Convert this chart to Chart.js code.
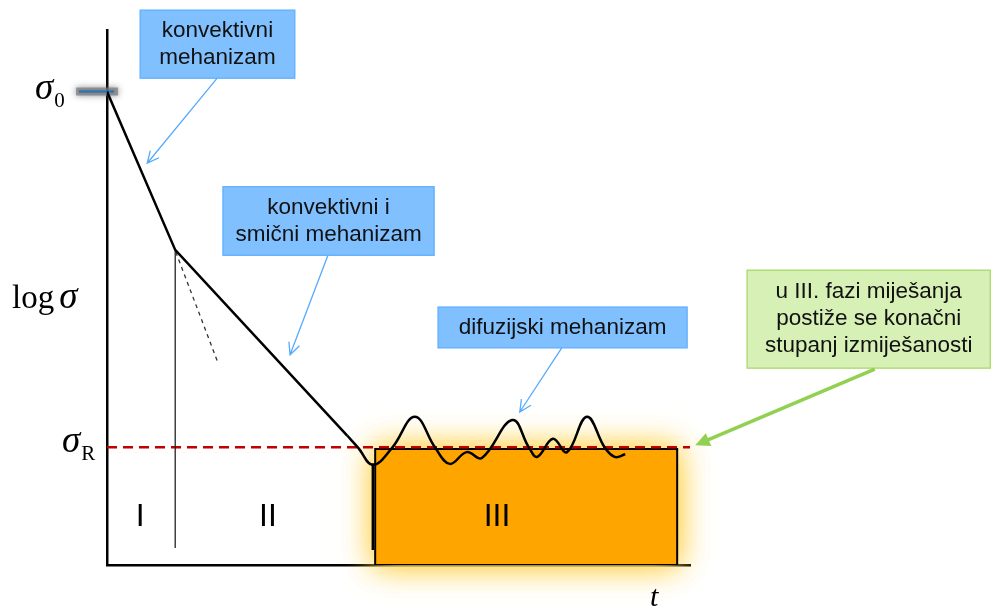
<!DOCTYPE html>
<html>
<head>
<meta charset="utf-8">
<script src="https://cdn.jsdelivr.net/npm/chart.js@4.4.0/dist/chart.umd.min.js"></script>
<style>
body { margin: 0; background: #fff; }
</style>
</head>
<body>
<canvas id="grafico" width="991" height="608"></canvas>
<script>
// vrijednosti u jedinicama dijagrama (t i log sigma)
const tMax = 10
const logMax = 10
const sigma0 = 8.85
const sigmaR = 2.2

// konvektivni pa konvektivni i smicni mehanizam
const padT = [0, 1.17, 4.12]
const padLog = [sigma0, 5.89, 2.42]

// difuzijski mehanizam - titra oko sigmaR
const difT = [4.12, 4.31, 4.56, 4.89, 5.28, 5.63, 5.88, 6.17, 6.43, 6.95, 7.24, 7.38, 7.65, 7.89, 8.23, 8.54, 8.71, 8.89]
const difLog = [2.42, 2.19, 1.87, 2.19, 2.77, 2.19, 1.89, 2.11, 2.00, 2.71, 2.19, 2.02, 2.36, 2.11, 2.77, 2.19, 2.02, 2.07]

// produzetak prvog pravca (crtkano)
const produzetakT = [1.18, 1.90]
const produzetakLog = [5.85, 3.79]

// granice faza
const granica1T = 1.17
const granica1Log = [0.32, 5.89]
const granica2T = 4.56
const granica2Log = [0.28, 1.90]

// III. faza
const kutijaT = [4.60, 9.78]
const kutijaLog = [0, 2.17]

// oznake faza
const faze = ['I', 'II', 'III']
const fazeT = [0.57, 2.76, 6.69]
const fazeLog = 0.93

// crtica za sigma0 na osi
const crticaT = [-0.53, 0.19]
const crticaPlavaT = [-0.48, 0.12]

// oblacici s tekstom
const oblacici = [
    { tekst: ['konvektivni', 'mehanizam'], okvir: [0.57, 3.22, 10.37, 9.10], strelica: [1.89, 9.10, 0.69, 7.51], zelen: false },
    { tekst: ['konvektivni i', 'smični mehanizam'], okvir: [1.99, 5.61, 7.07, 5.79], strelica: [3.79, 5.79, 3.14, 3.93], zelen: false },
    { tekst: ['difuzijski mehanizam'], okvir: [5.68, 9.95, 4.82, 4.06], strelica: [7.80, 4.06, 7.08, 2.86], zelen: false },
    { tekst: ['u III. fazi miješanja', 'postiže se konačni', 'stupanj izmiješanosti'], okvir: [10.98, 15.15, 5.51, 3.68], strelica: [13.17, 3.66, 10.09, 2.24], zelen: true }
]

function tocke(xs, ys) {
    return xs.map((v, i) => ({ x: v, y: ys[i] }))
}

function strelica(ctx, x1, y1, x2, y2, zelen) {
    let kut = Math.atan2(y2 - y1, x2 - x1)
    ctx.save()
    if (zelen) {
        ctx.strokeStyle = '#92d050'
        ctx.fillStyle = '#92d050'
        ctx.lineWidth = 3.5
        let d = 16
        ctx.beginPath()
        ctx.moveTo(x1, y1)
        ctx.lineTo(x2 - Math.cos(kut) * 8, y2 - Math.sin(kut) * 8)
        ctx.stroke()
        ctx.beginPath()
        ctx.moveTo(x2, y2)
        ctx.lineTo(x2 - d * Math.cos(kut - 0.45), y2 - d * Math.sin(kut - 0.45))
        ctx.lineTo(x2 - d * Math.cos(kut + 0.45), y2 - d * Math.sin(kut + 0.45))
        ctx.closePath()
        ctx.fill()
    } else {
        ctx.strokeStyle = '#55aaff'
        ctx.lineWidth = 1.3
        let d = 13
        ctx.beginPath()
        ctx.moveTo(x1, y1)
        ctx.lineTo(x2, y2)
        ctx.moveTo(x2 - d * Math.cos(kut - 0.45), y2 - d * Math.sin(kut - 0.45))
        ctx.lineTo(x2, y2)
        ctx.lineTo(x2 - d * Math.cos(kut + 0.45), y2 - d * Math.sin(kut + 0.45))
        ctx.stroke()
    }
    ctx.restore()
}

// sigma s indeksom
function sigma(ctx, indeks, x, y) {
    ctx.font = 'italic 37px "Liberation Serif"'
    ctx.fillText('σ', x, y)
    let w = ctx.measureText('σ').width
    ctx.font = '21px "Liberation Serif"'
    ctx.fillText(indeks, x + w + 1, y + 8)
}

const crtez = {
    id: 'crtez',
    beforeDatasetsDraw(chart) {
        // zuti sjaj oko III. faze
        const { ctx, scales: { x, y } } = chart
        let x1 = x.getPixelForValue(kutijaT[0])
        let x2 = x.getPixelForValue(kutijaT[1])
        let y1 = y.getPixelForValue(kutijaLog[1])
        let y2 = y.getPixelForValue(kutijaLog[0])
        ctx.save()
        ctx.shadowColor = 'rgba(255, 210, 70, 0.9)'
        ctx.shadowBlur = 30
        ctx.fillStyle = '#ffa500'
        ctx.fillRect(x1, y1, x2 - x1, y2 - y1)
        ctx.fillRect(x1, y1, x2 - x1, y2 - y1)
        // sjena crtice sigma0
        ctx.shadowColor = 'rgba(80, 80, 80, 0.9)'
        ctx.shadowBlur = 6
        ctx.fillStyle = 'rgba(120, 120, 120, 0.7)'
        let cx1 = x.getPixelForValue(crticaT[0])
        let cx2 = x.getPixelForValue(crticaT[1])
        let cy = y.getPixelForValue(sigma0)
        ctx.fillRect(cx1, cy - 4, cx2 - cx1, 8)
        ctx.restore()
    },
    afterDraw(chart) {
        const { ctx, scales: { x, y } } = chart
        const lijevo = x.getPixelForValue(0)
        ctx.save()
        ctx.fillStyle = '#000'
        ctx.textAlign = 'left'
        ctx.textBaseline = 'alphabetic'

        // sigma0 i sigmaR
        sigma(ctx, '0', lijevo - 72, y.getPixelForValue(sigma0) + 7)
        sigma(ctx, 'R', lijevo - 45, y.getPixelForValue(sigmaR) + 5)

        // log sigma
        let ysr = (y.getPixelForValue(logMax) + y.getPixelForValue(0)) / 2
        ctx.font = '33px "Liberation Serif"'
        ctx.fillText('log', lijevo - 95, ysr + 10)
        let sirina = ctx.measureText('log').width
        ctx.font = 'italic 37px "Liberation Serif"'
        ctx.fillText('σ', lijevo - 95 + sirina + 5, ysr + 10)

        // t
        ctx.font = 'italic 30px "Liberation Serif"'
        ctx.fillText('t', x.getPixelForValue(tMax) - 40, y.getPixelForValue(0) + 41)

        // faze
        ctx.font = '32px "Liberation Sans"'
        ctx.textAlign = 'center'
        faze.forEach((f, i) => {
            ctx.fillText(f, x.getPixelForValue(fazeT[i]), y.getPixelForValue(fazeLog) + 11)
        })

        // oblacici
        oblacici.forEach(o => {
            let x1 = x.getPixelForValue(o.okvir[0])
            let x2 = x.getPixelForValue(o.okvir[1])
            let y1 = y.getPixelForValue(o.okvir[2])
            let y2 = y.getPixelForValue(o.okvir[3])
            ctx.fillStyle = o.zelen ? '#d7f0b5' : '#80c0ff'
            ctx.strokeStyle = o.zelen ? '#b0dd78' : '#66b3ff'
            ctx.lineWidth = 1.5
            ctx.fillRect(x1, y1, x2 - x1, y2 - y1)
            ctx.strokeRect(x1, y1, x2 - x1, y2 - y1)
            ctx.fillStyle = '#111'
            ctx.font = '22.5px "Liberation Sans"'
            ctx.textAlign = 'center'
            ctx.textBaseline = 'middle'
            let razmak = 27
            let pocetak = (y1 + y2) / 2 - (o.tekst.length - 1) * razmak / 2
            o.tekst.forEach((red, i) => {
                ctx.fillText(red, (x1 + x2) / 2, pocetak + i * razmak)
            })
            let s = o.strelica
            strelica(ctx, x.getPixelForValue(s[0]), y.getPixelForValue(s[1]), x.getPixelForValue(s[2]), y.getPixelForValue(s[3]), o.zelen)
        })
        ctx.restore()
    }
}

const ctx = document.getElementById('grafico').getContext('2d')
const grafico = new Chart(ctx, {
    type: 'scatter',
    data: {
        datasets: [
            {
                // krivulja - difuzija
                data: tocke(difT, difLog),
                showLine: true,
                borderColor: '#000',
                borderWidth: 2.5,
                tension: 0.4,
                pointRadius: 0,
                order: 1
            },
            {
                // krivulja - konvekcija i smicanje
                data: tocke(padT, padLog),
                showLine: true,
                borderColor: '#000',
                borderWidth: 2.5,
                pointRadius: 0,
                order: 1
            },
            {
                data: tocke(produzetakT, produzetakLog),
                showLine: true,
                borderColor: '#333',
                borderWidth: 1.3,
                borderDash: [4, 4],
                pointRadius: 0,
                order: 2
            },
            {
                data: tocke([granica1T, granica1T], granica1Log),
                showLine: true,
                borderColor: '#222',
                borderWidth: 1.3,
                pointRadius: 0,
                order: 2
            },
            {
                data: tocke([granica2T, granica2T], granica2Log),
                showLine: true,
                borderColor: '#000',
                borderWidth: 2.5,
                pointRadius: 0,
                order: 2
            },
            {
                // sigmaR
                data: tocke([0, tMax], [sigmaR, sigmaR]),
                showLine: true,
                borderColor: '#c00000',
                borderWidth: 2.5,
                borderDash: [10, 6],
                pointRadius: 0,
                order: 3
            },
            {
                data: tocke(crticaPlavaT, [sigma0, sigma0]),
                showLine: true,
                borderColor: '#2f75b5',
                borderWidth: 2.5,
                pointRadius: 0,
                clip: false,
                order: 4
            },
            {
                // III. faza
                data: tocke([kutijaT[0], kutijaT[0], kutijaT[1], kutijaT[1], kutijaT[0]], [kutijaLog[0], kutijaLog[1], kutijaLog[1], kutijaLog[0], kutijaLog[0]]),
                showLine: true,
                fill: 'origin',
                backgroundColor: '#ffa500',
                borderColor: '#000',
                borderWidth: 2,
                pointRadius: 0,
                order: 10
            }
        ]
    },
    options: {
        responsive: false,
        animation: false,
        layout: { padding: { left: 107, right: 301, top: 30, bottom: 43 } },
        plugins: {
            legend: { display: false },
            tooltip: { enabled: false }
        },
        scales: {
            x: {
                type: 'linear', min: 0, max: tMax, z: 1,
                grid: { display: false, drawTicks: false },
                ticks: { display: false },
                border: { color: '#000', width: 2.5 },
                afterFit: s => { s.height = 0 }
            },
            y: {
                type: 'linear', min: 0, max: logMax, z: 1,
                grid: { display: false, drawTicks: false },
                ticks: { display: false },
                border: { color: '#000', width: 2.5 },
                afterFit: s => { s.width = 0 }
            }
        }
    },
    plugins: [crtez]
})
</script>
</body>
</html>
